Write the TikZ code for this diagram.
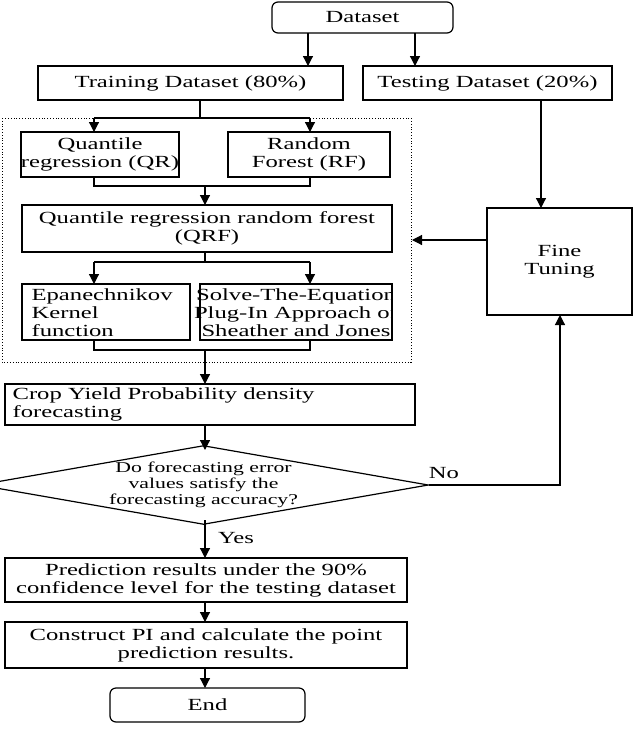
\documentclass[tikz,border=0pt]{standalone}
\usepackage{fontspec}
\setmainfont{Liberation Serif}[FakeStretch=1.45]
\usetikzlibrary{arrows.meta,shapes.geometric}
\begin{document}
\begin{tikzpicture}[x=1pt,y=-1pt,
 line width=1.2pt,
 txt/.style={font=\fontsize{17}{18}\selectfont},
 box/.style={draw,rectangle,align=center,inner sep=0pt,txt},
 arr/.style={-{Triangle[length=10pt,width=10pt]}},
 ln/.style={}]
\useasboundingbox (0,0) rectangle (640,729);
\node[box,rounded corners=6pt,minimum width=181,minimum height=31] (ds) at (362.5,17.5) {Dataset};
\node[box,minimum width=305,minimum height=34] (tr) at (190.5,83) {Training Dataset (80\%)};
\node[box,minimum width=249,minimum height=34] (te) at (487.5,83) {Testing Dataset (20\%)};
\draw[arr] (308,33) -- (308,66);
\draw[arr] (415,33) -- (415,66);
\draw[dotted,line width=0.8pt] (2,118) rectangle (411,362);
\node[box,minimum width=156,minimum height=45] (qr) at (100,154.5) {Quantile\\regression (QR)};
\node[box,minimum width=162,minimum height=45] (rf) at (309,154.5) {Random\\Forest (RF)};
\draw[ln] (200,100) -- (200,118);
\draw[ln] (94,118) -- (310,118);
\draw[arr] (94,118) -- (94,132);
\draw[arr] (310,118) -- (310,132);
\draw[ln] (94,177) -- (94,186) -- (310,186) -- (310,177);
\node[box,minimum width=370,minimum height=47] (qrf) at (207,228.5) {Quantile regression random forest\\(QRF)};
\draw[arr] (205,186) -- (205,205);
\draw[ln] (205,252) -- (205,262);
\draw[ln] (94,262) -- (310,262);
\draw[arr] (94,262) -- (94,284);
\draw[arr] (310,262) -- (310,284);
\node[box,minimum width=168,minimum height=56] (ep) at (106,312) {};
\node[box,minimum width=192,minimum height=56] (so) at (296,312) {};
\begin{scope}
\clip (22,284) rectangle (392,340);
\node[txt,align=left,anchor=north west,inner sep=0pt] at (31,288) {Epanechnikov\\Kernel\\function};
\node[txt,align=center,anchor=north,inner sep=0pt] at (296,288) {Solve-The-Equation\\Plug-In Approach of\\Sheather and Jones};
\end{scope}
\draw[ln] (94,340) -- (94,350) -- (310,350) -- (310,340);
\node[box,minimum width=410,minimum height=41] (cy) at (210,404.5) {};
\node[txt,align=left,anchor=west,inner sep=0pt] at (12,404.5) {Crop Yield Probability density\\forecasting};
\draw[arr] (205,350) -- (205,384);
\node[draw,diamond,aspect=5.7,minimum width=390,minimum height=70,inner sep=0pt,align=center,font=\fontsize{15}{16}\selectfont] (dm) at (203.5,485) {Do forecasting error\\values satisfy the\\forecasting accuracy?};
\draw[arr] (205,425) -- (205,450);
\node[box,minimum width=145,minimum height=107] (ft) at (559.5,261.5) {Fine\\Tuning};
\draw[arr] (541,100) -- (541,208);
\draw[arr] (487,240) -- (412,240);
\draw[arr] (dm.east) -- (560,485) -- (560,315);
\node[txt] at (444,473) {No};
\node[box,minimum width=402,minimum height=44] (pr) at (206,580) {Prediction results under the 90\%\\confidence level for the testing dataset};
\draw[arr] (205,520) -- (205,558);
\node[txt] at (236,538) {Yes};
\node[box,minimum width=402,minimum height=46] (cp) at (206,645) {Construct PI and calculate the point\\prediction results.};
\draw[arr] (205,602) -- (205,622);
\node[box,rounded corners=6pt,minimum width=195,minimum height=34] (en) at (207.5,705) {End};
\draw[arr] (205,668) -- (205,688);
\end{tikzpicture}
\end{document}
